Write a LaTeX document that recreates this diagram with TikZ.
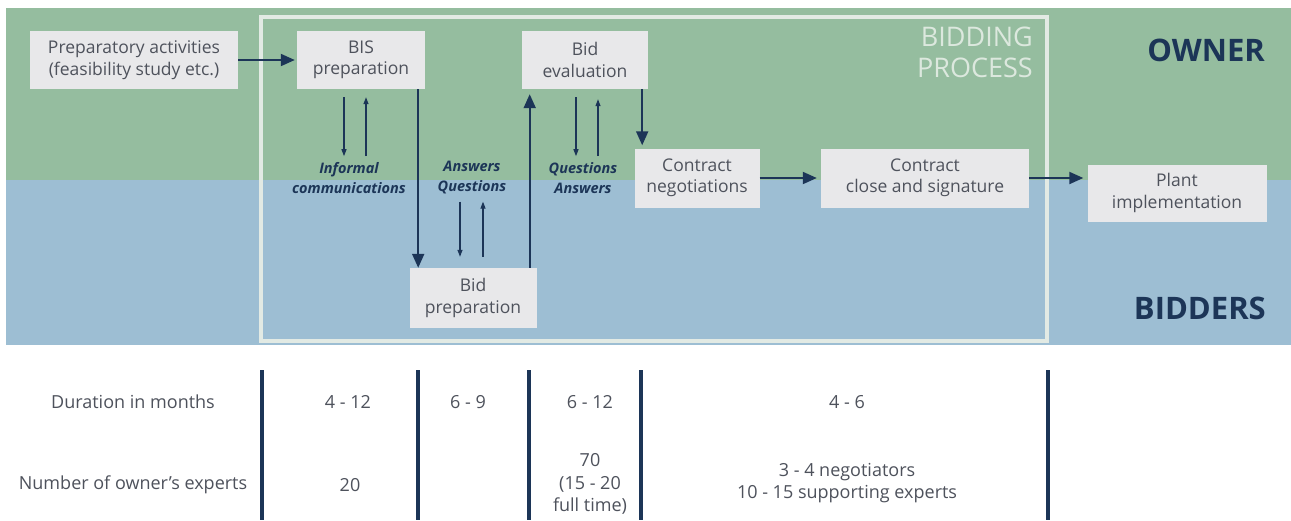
\documentclass[tikz,border=0pt]{standalone}
\usepackage{fontspec}
\setmainfont{Open Sans}
\usetikzlibrary{arrows.meta}
\definecolor{ownergreen}{HTML}{95BD9F}
\definecolor{bidderblue}{HTML}{9DBED3}
\definecolor{framecol}{HTML}{E2EAE4}
\definecolor{boxfill}{HTML}{E8E8EA}
\definecolor{navy}{HTML}{1C3557}
\definecolor{textgray}{HTML}{4E525C}
\definecolor{processtext}{HTML}{DCE8DE}
\tikzset{
  stepbox/.style={fill=boxfill, inner sep=0pt, align=center, text=textgray,
    font=\fontsize{17.5}{21.5}\selectfont},
  commlabel/.style={align=center, text=navy, inner sep=1pt,
    font=\fontsize{14.5}{20}\selectfont\bfseries\itshape},
  bigarrow/.style={draw=navy, line width=2pt,
    -{Triangle[length=14pt,width=12pt]}},
  smallarrow/.style={draw=navy, line width=1.2pt,
    -{Triangle[length=7pt,width=5pt]}},
  celltext/.style={align=center, text=textgray, inner sep=0pt,
    font=\fontsize{18}{22.5}\selectfont},
  sepline/.style={draw=navy, line width=4pt},
  sidelabel/.style={text=navy, font=\fontsize{31}{34}\selectfont\bfseries, anchor=east, inner sep=0pt},
}
\begin{document}
\begin{tikzpicture}[x=1pt,y=-1pt]
\useasboundingbox (0,0) rectangle (1291,520);
\fill[white] (0,0) rectangle (1291,520);

% swim lanes
\fill[ownergreen] (6,8) rectangle (1291,180);
\fill[bidderblue] (6,180) rectangle (1291,345);

% bidding process frame
\draw[framecol, line width=3.5pt] (261,17) rectangle (1047,341);
\node[anchor=north east, align=right, text=processtext, inner sep=0pt,
  font=\fontsize{27}{31}\selectfont] (bp) at (1033,27) {BIDDING\\PROCESS};

\node[sidelabel] (owner) at (1265,50) {OWNER};
\node[sidelabel] (bidders) at (1266,308) {BIDDERS};

% process steps
\node[stepbox, minimum width=208pt, minimum height=58pt] (prep) at (134,60)
  {Preparatory activities\\(feasibility study etc.)};
\node[stepbox, minimum width=128pt, minimum height=58pt] (bis) at (361,60)
  {BIS\\preparation};
\node[stepbox, minimum width=126pt, minimum height=58pt] (eval) at (585,60)
  {Bid\\evaluation};
\node[stepbox, minimum width=127pt, minimum height=60pt] (bidprep) at (473,298)
  {Bid\\preparation};
\node[stepbox, minimum width=125pt, minimum height=59pt] (neg) at (697,178)
  {Contract\\negotiations};
\node[stepbox, minimum width=208pt, minimum height=59pt] (close) at (925,178)
  {Contract\\close and signature};
\node[stepbox, minimum width=179pt, minimum height=57pt] (plant) at (1177,193)
  {Plant\\implementation};

% communication labels
\node[commlabel] (lbl1) at (349,178) {Informal\\communications};
\node[commlabel] (lbl2) at (472,178) {Answers\\Questions};
\node[commlabel] (lbl3) at (583,178) {Questions\\Answers};

% main flow
\draw[bigarrow, shorten >=2pt] (prep) -- (bis);
\draw[bigarrow] ([xshift=-7pt]bis.south east) -- ([xshift=-7pt]bis.south east |- bidprep.north);
\draw[bigarrow, shorten >=5pt] ([xshift=-7pt]bidprep.north east) -- ([xshift=-7pt]bidprep.north east |- eval.south);
\draw[bigarrow, shorten >=3pt] ([xshift=-6pt]eval.south east) -- ([xshift=-6pt]eval.south east |- neg.north);
\draw[bigarrow, shorten >=4pt] (neg) -- (close);
\draw[bigarrow, shorten >=4pt] (close.east) -- (close.east -| plant.west);

% informal exchanges
\draw[smallarrow, shorten <=8pt, shorten >=5pt] ([xshift=-17pt]bis.south) -- ([xshift=-17pt]bis.south |- lbl1.north);
\draw[smallarrow, shorten <=5pt, shorten >=8pt] ([xshift=5pt]bis.south |- lbl1.north) -- ([xshift=5pt]bis.south);
\draw[smallarrow, shorten <=6pt, shorten >=11pt] ([xshift=-12pt]lbl2.south) -- ([xshift=-12pt]lbl2.south |- bidprep.north);
\draw[smallarrow, shorten <=11pt, shorten >=6pt] ([xshift=11pt]lbl2.south |- bidprep.north) -- ([xshift=11pt]lbl2.south);
\draw[smallarrow, shorten <=8pt, shorten >=5pt] ([xshift=-9pt]eval.south) -- ([xshift=-9pt]eval.south |- lbl3.north);
\draw[smallarrow, shorten <=5pt, shorten >=10pt] ([xshift=13pt]eval.south |- lbl3.north) -- ([xshift=13pt]eval.south);

% table of durations and staffing
\foreach \x [count=\i] in {262,418,529,641,1048} {
  \coordinate (top\i) at (\x,370);
  \coordinate (bot\i) at (\x,520);
  \draw[sepline] (top\i) -- (bot\i);
}
\node[celltext] (durhead) at (133,402) {Duration in months};
\node[celltext] (exphead) at (133,485) {Number of owner's experts};
\node[celltext] (dur1) at (348,402) {4 - 12};
\node[celltext] (dur2) at (468,402) {6 - 9};
\node[celltext] (dur3) at (590,402) {6 - 12};
\node[celltext] (dur4) at (847,402) {4 - 6};
\node[celltext] (exp1) at (350,485) {20};
\node[celltext] (exp3) at (590,484) {70\\(15 - 20\\full time)};
\node[celltext] (exp4) at (847,483) {3 - 4 negotiators\\10 - 15 supporting experts};
\end{tikzpicture}
\end{document}
